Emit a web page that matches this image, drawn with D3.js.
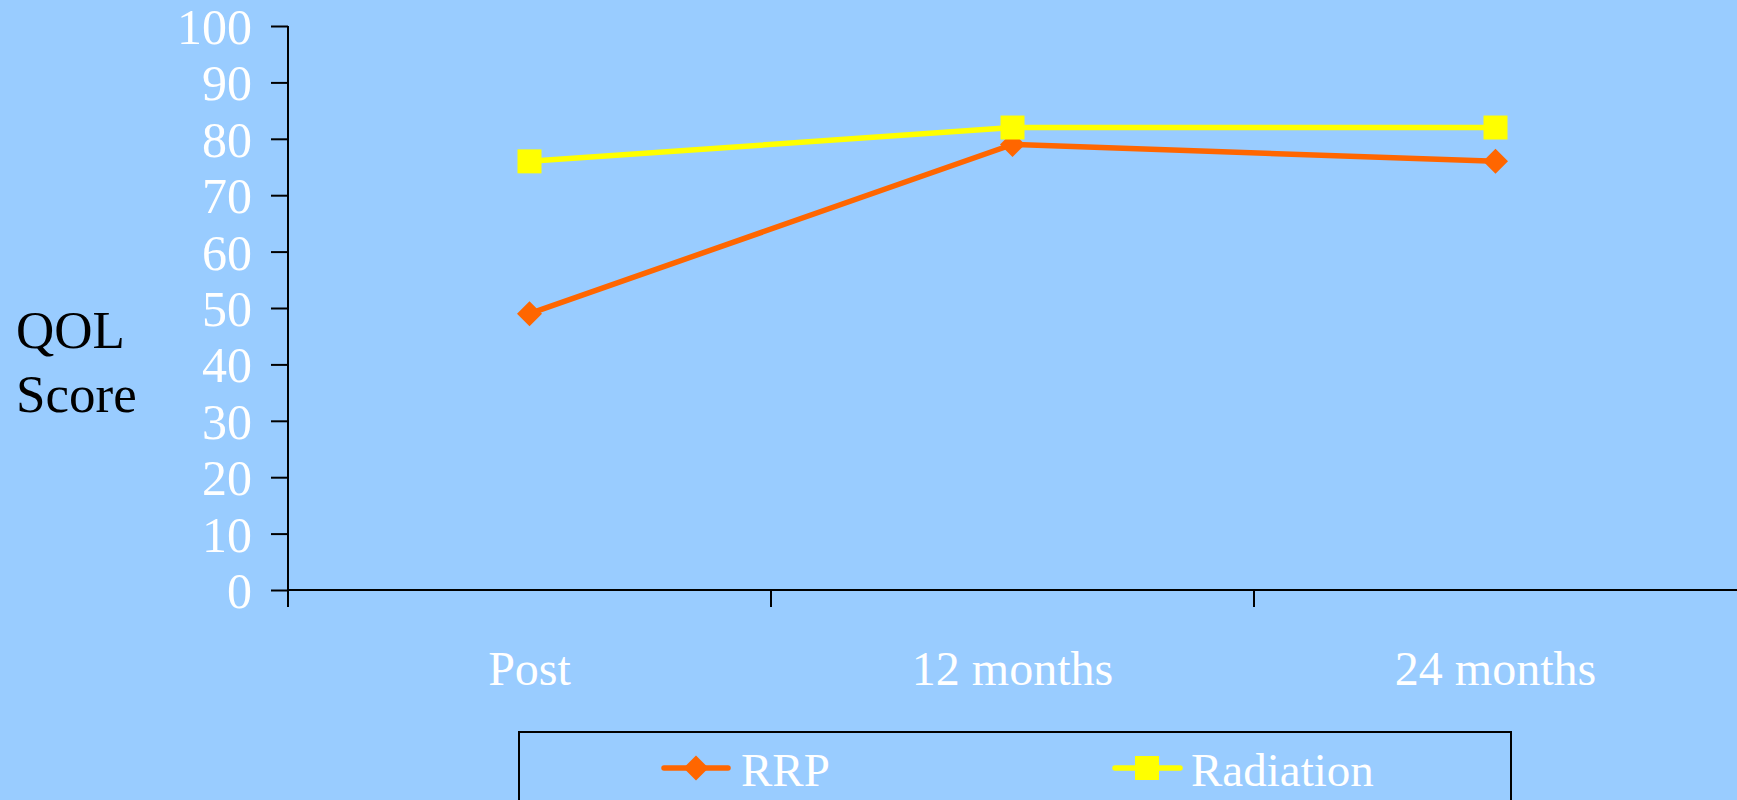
<!DOCTYPE html>
<html>
<head>
<meta charset="utf-8">
<script src="https://cdn.jsdelivr.net/npm/d3@7"></script>
<style>
  html, body { margin: 0; padding: 0; background: #99CCFF; overflow: hidden; }
  svg { display: block; }
  text { font-family: "Liberation Serif", "Times New Roman", serif; }
</style>
</head>
<body>
<svg id="chart" width="1737" height="800"></svg>
<script>
// Quality-of-life scores over follow-up
const categories = ["Post", "12 months", "24 months"];
const rrpValues = [49, 79, 76];
const radiationValues = [76, 82, 82];
const yTicks = [0, 10, 20, 30, 40, 50, 60, 70, 80, 90, 100];
const seriesNames = ["RRP", "Radiation"];

const W = 1737, H = 800;
const svg = d3.select("#chart");
svg.append("rect").attr("width", W).attr("height", H).attr("fill", "#99CCFF");

const x = d3.scaleBand().domain(categories).range([288, 1737]);
const y = d3.scaleLinear().domain([0, 100]).range([590, 26]);

// Y axis
const yAxis = svg.append("g").attr("transform", "translate(288,0)")
  .call(d3.axisLeft(y).tickValues(yTicks).tickSize(17).tickPadding(19).tickSizeOuter(0));
yAxis.select(".domain").attr("stroke", "#000").attr("stroke-width", 2)
  .attr("d", `M0,${y(100)}V607`);
yAxis.selectAll(".tick line").attr("stroke", "#000").attr("stroke-width", 2);
yAxis.selectAll(".tick text").attr("fill", "#fff").attr("font-size", 50)
  .attr("font-family", "Liberation Serif").attr("dy", "0.35em");

// X axis: ticks between categories (the first boundary is the y axis itself)
const xAxis = svg.append("g").attr("transform", `translate(0,${y(0)})`);
xAxis.append("line").attr("x1", 288).attr("x2", W).attr("y1", 0).attr("y2", 0)
  .attr("stroke", "#000").attr("stroke-width", 2);
const bounds = categories.map(c => x(c)).slice(1);
xAxis.selectAll("line.tk").data(bounds).join("line").attr("class", "tk")
  .attr("x1", d => d).attr("x2", d => d).attr("y1", 0).attr("y2", 17)
  .attr("stroke", "#000").attr("stroke-width", 2);
xAxis.selectAll("text").data(categories).join("text")
  .attr("x", d => x(d) + x.bandwidth() / 2).attr("y", 95)
  .attr("text-anchor", "middle").attr("fill", "#fff").attr("font-size", 48)
  .text(d => d);

// Y axis title
const title = svg.append("text").attr("fill", "#000").attr("font-size", 53);
title.append("tspan").attr("x", 16).attr("y", 348).text("QOL");
title.append("tspan").attr("x", 16).attr("y", 412).text("Score");

const cx = d => x(d) + x.bandwidth() / 2;
const line = d3.line().x((d, i) => cx(categories[i])).y(d => y(d));

// RRP series (orange, diamonds)
svg.append("path").datum(rrpValues).attr("d", line)
  .attr("fill", "none").attr("stroke", "#FF6600").attr("stroke-width", 5.5);
const diamond = (px, py, r) => `M${px},${py - r}L${px + r},${py}L${px},${py + r}L${px - r},${py}Z`;
svg.selectAll("path.rrp").data(rrpValues).join("path").attr("class", "rrp")
  .attr("d", (d, i) => diamond(cx(categories[i]), y(d), 12.5))
  .attr("fill", "#FF6600");

// Radiation series (yellow, squares)
svg.append("path").datum(radiationValues).attr("d", line)
  .attr("fill", "none").attr("stroke", "#FFFF00").attr("stroke-width", 5.5);
svg.selectAll("rect.rad").data(radiationValues).join("rect").attr("class", "rad")
  .attr("x", (d, i) => cx(categories[i]) - 12).attr("y", d => y(d) - 12)
  .attr("width", 24).attr("height", 24).attr("fill", "#FFFF00");

// Legend
const lg = svg.append("g");
lg.append("rect").attr("x", 519).attr("y", 732).attr("width", 992).attr("height", 100)
  .attr("fill", "none").attr("stroke", "#000").attr("stroke-width", 2);
lg.append("line").attr("x1", 664).attr("x2", 728).attr("y1", 768).attr("y2", 768)
  .attr("stroke", "#FF6600").attr("stroke-width", 5.5).attr("stroke-linecap", "round");
lg.append("path").attr("d", diamond(696, 768, 12.5)).attr("fill", "#FF6600");
lg.append("text").attr("x", 741).attr("y", 786).attr("fill", "#fff").attr("font-size", 47).text(seriesNames[0]);
lg.append("line").attr("x1", 1115).attr("x2", 1180).attr("y1", 768).attr("y2", 768)
  .attr("stroke", "#FFFF00").attr("stroke-width", 5.5).attr("stroke-linecap", "round");
lg.append("rect").attr("x", 1135).attr("y", 756).attr("width", 24).attr("height", 24).attr("fill", "#FFFF00");
lg.append("text").attr("x", 1191).attr("y", 786).attr("fill", "#fff").attr("font-size", 47).text(seriesNames[1]);
</script>
</body>
</html>
